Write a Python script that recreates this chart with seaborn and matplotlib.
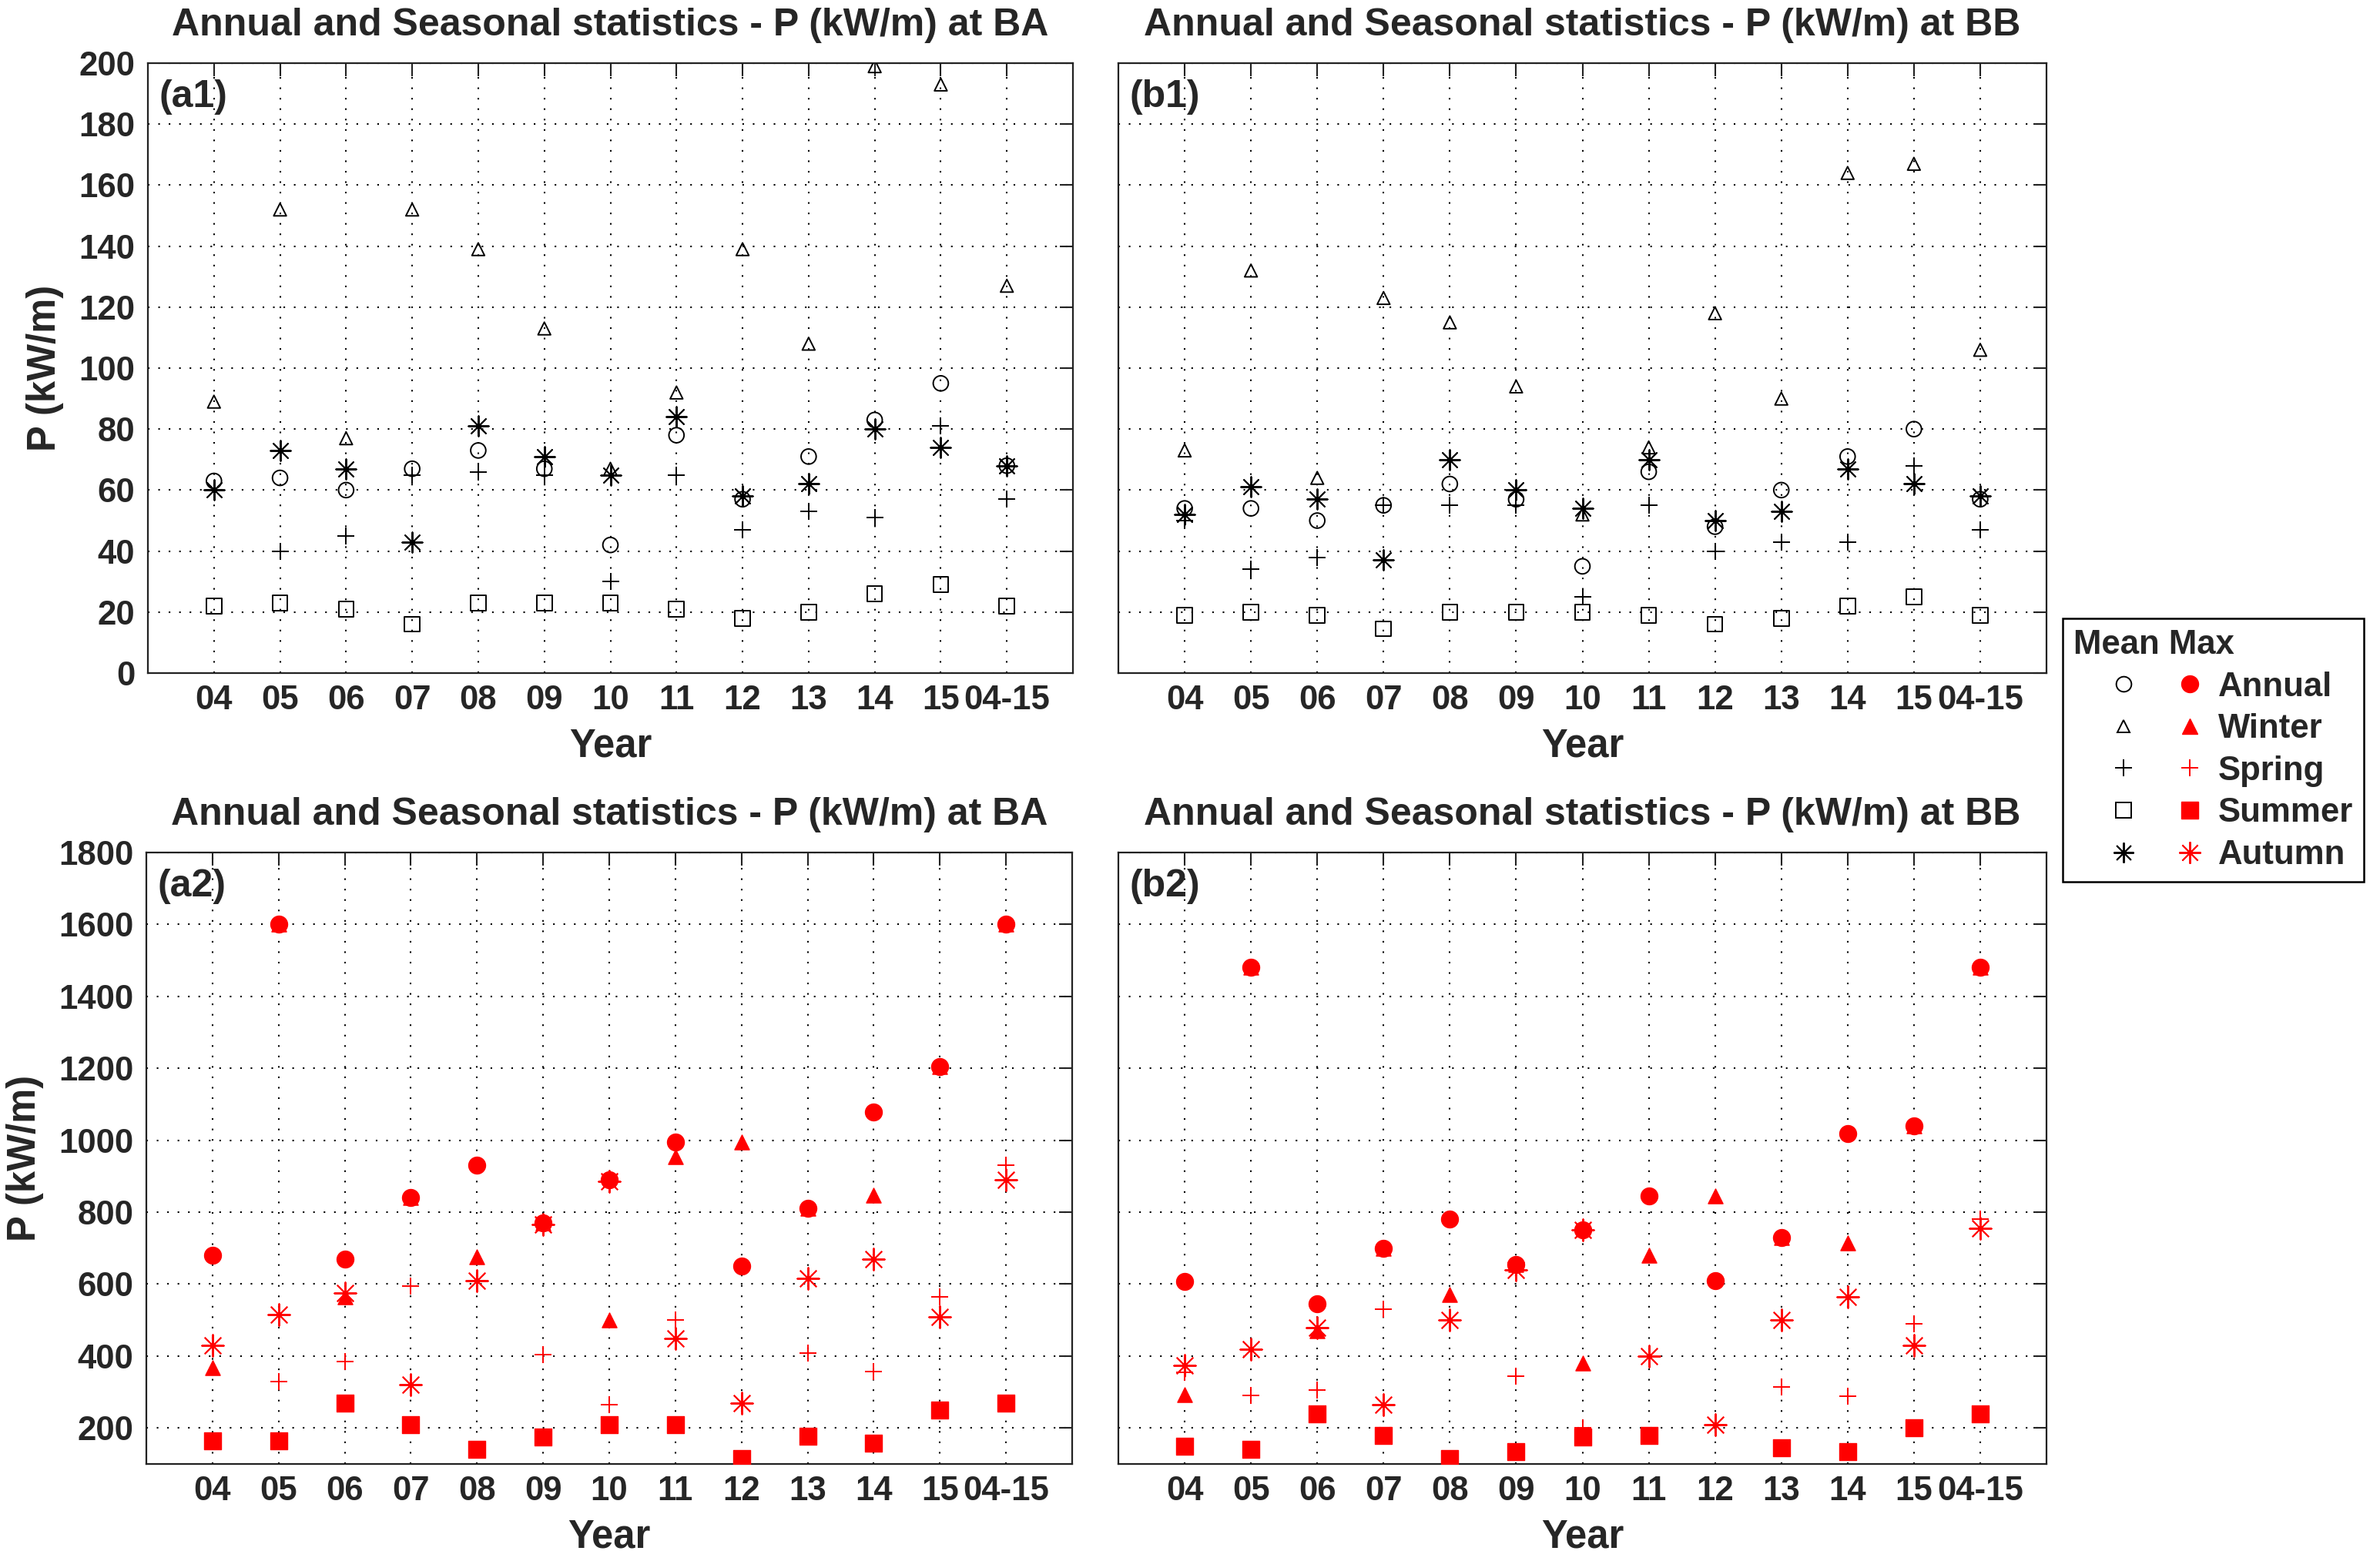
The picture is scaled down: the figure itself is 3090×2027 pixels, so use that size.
import numpy as np
import pandas as pd
import seaborn as sns
import matplotlib.pyplot as plt
from matplotlib.lines import Line2D
from matplotlib.legend_handler import HandlerTuple

years = ['04', '05', '06', '07', '08', '09', '10', '11', '12', '13', '14', '15', '04-15']
seasons = ['Annual', 'Winter', 'Spring', 'Summer', 'Autumn']

# mean P (kW/m) at BA
ba_mean_annual = [63, 64, 60, 67, 73, 67, 42, 78, 57, 71, 83, 95, 68]
ba_mean_winter = [89, 152, 77, 152, 139, 113, 67, 92, 139, 108, 199, 193, 127]
ba_mean_spring = [60, 40, 45, 65, 66, 65, 30, 65, 47, 53, 51, 81, 57]
ba_mean_summer = [22, 23, 21, 16, 23, 23, 23, 21, 18, 20, 26, 29, 22]
ba_mean_autumn = [60, 73, 67, 43, 81, 71, 65, 84, 58, 62, 80, 74, 68]

# mean P (kW/m) at BB
bb_mean_annual = [54, 54, 50, 55, 62, 57, 35, 66, 48, 60, 71, 80, 57]
bb_mean_winter = [73, 132, 64, 123, 115, 94, 52, 74, 118, 90, 164, 167, 106]
bb_mean_spring = [50, 34, 38, 55, 55, 55, 25, 55, 40, 43, 43, 68, 47]
bb_mean_summer = [19, 20, 19, 14.5, 20, 20, 20, 19, 16, 18, 22, 25, 19]
bb_mean_autumn = [52, 61, 57, 37, 70, 60, 54, 70, 50, 53, 67, 62, 58]

# max P (kW/m) at BA
ba_max_annual = [680, 1600, 670, 840, 930, 770, 890, 995, 650, 810, 1078, 1205, 1600]
ba_max_winter = [368, 1600, 565, 840, 675, 770, 500, 955, 995, 810, 848, 1205, 1600]
ba_max_spring = [430, 330, 385, 595, 610, 405, 265, 500, 270, 408, 357, 565, 930]
ba_max_summer = [165, 165, 270, 210, 140, 175, 210, 210, 115, 177, 158, 249, 270]
ba_max_autumn = [430, 515, 575, 320, 610, 765, 885, 450, 270, 615, 670, 510, 890]

# max P (kW/m) at BB (summer 12 falls below the axis)
bb_max_annual = [607, 1480, 545, 700, 780, 655, 750, 845, 610, 730, 1018, 1040, 1480]
bb_max_winter = [292, 1480, 470, 700, 570, 655, 380, 680, 845, 730, 715, 1040, 1480]
bb_max_spring = [355, 290, 305, 530, 500, 345, 200, 400, 210, 315, 288, 490, 780]
bb_max_summer = [150, 140, 240, 180, 115, 135, 175, 180, 60, 145, 135, 200, 240]
bb_max_autumn = [375, 420, 480, 265, 500, 640, 750, 400, 210, 500, 565, 430, 755]

panels = [
    ('(a1)', 'BA', [ba_mean_annual, ba_mean_winter, ba_mean_spring, ba_mean_summer, ba_mean_autumn], 'mean'),
    ('(b1)', 'BB', [bb_mean_annual, bb_mean_winter, bb_mean_spring, bb_mean_summer, bb_mean_autumn], 'mean'),
    ('(a2)', 'BA', [ba_max_annual, ba_max_winter, ba_max_spring, ba_max_summer, ba_max_autumn], 'max'),
    ('(b2)', 'BB', [bb_max_annual, bb_max_winter, bb_max_spring, bb_max_summer, bb_max_autumn], 'max'),
]

asterisk = (8, 2, 0)
mean_style = {
    'Annual': dict(marker='o', s=200, facecolor='none', edgecolor='k', linewidth=1.4),
    'Winter': dict(marker='^', s=140, facecolor='none', edgecolor='k', linewidth=1.4),
    'Spring': dict(marker='+', s=260, color='k', linewidth=1.4),
    'Summer': dict(marker='s', s=200, facecolor='none', edgecolor='k', linewidth=1.4),
    'Autumn': dict(marker=asterisk, s=360, color='k', linewidth=1.4),
}
max_style = {
    'Annual': dict(marker='o', s=250, color='red', edgecolor='red', linewidth=1),
    'Winter': dict(marker='^', s=190, color='red', edgecolor='red', linewidth=1),
    'Spring': dict(marker='+', s=260, color='red', linewidth=1.4),
    'Summer': dict(marker='s', s=260, color='red', edgecolor='red', linewidth=1),
    'Autumn': dict(marker=asterisk, s=420, color='red', linewidth=1.4),
}

sns.set_style('white')
plt.rcParams['font.family'] = ['Liberation Sans', 'DejaVu Sans']
plt.rcParams['font.weight'] = 'bold'
plt.rcParams['axes.labelweight'] = 'bold'
plt.rcParams['axes.titleweight'] = 'bold'

W, H = 3090, 2027
fig = plt.figure(figsize=(W / 100, H / 100), dpi=100)
boxes = [(192, 82, 1393, 874), (1452, 82, 2657, 874),
         (190, 1107, 1392, 1901), (1452, 1107, 2657, 1901)]

xpos = np.arange(1, len(years) + 1)
for (tag, site, series, kind), (x0, y0, x1, y1) in zip(panels, boxes):
    ax = fig.add_axes([x0 / W, 1 - y1 / H, (x1 - x0) / W, (y1 - y0) / H])
    styles = mean_style if kind == 'mean' else max_style
    for season, vals in zip(seasons, series):
        sns.scatterplot(x=xpos, y=vals, ax=ax, zorder=3, **styles[season])
    ax.set_xlim(0, 14)
    ax.set_xticks(xpos)
    ax.set_xticklabels(years)
    if kind == 'mean':
        ax.set_ylim(0, 200)
        ax.set_yticks(np.arange(0, 201, 20))
    else:
        ax.set_ylim(100, 1800)
        ax.set_yticks(np.arange(200, 1801, 200))
    ax.grid(True, color='k', linestyle=(0, (1, 5.5)), linewidth=1.5)
    ax.tick_params(direction='in', top=True, right=True, length=12, width=1.5,
                   labelsize=31.5, color='#222')
    ax.tick_params(axis='x', pad=11)
    ax.tick_params(axis='y', pad=12)
    for sp in ax.spines.values():
        sp.set_color('#222')
        sp.set_linewidth(1.6)
    ax.set_title('Annual and Seasonal statistics - P (kW/m) at ' + site,
                 fontsize=36, fontweight='bold', pad=26)
    ax.set_xlabel('Year', fontsize=36.5, fontweight='bold', labelpad=10)
    if site == 'BA':
        ax.set_ylabel('P (kW/m)', fontsize=36.5, fontweight='bold', labelpad=14)
    else:
        ax.set_ylabel('')
        ax.tick_params(axis='y', labelleft=False)
    ax.text(0.012, 0.945, tag, transform=ax.transAxes, fontsize=36,
            fontweight='bold', ha='left', va='center')


def proxy(st):
    mk = st['marker']
    ms = np.sqrt(st['s'])
    fc = st.get('facecolor', st.get('color'))
    ec = st.get('edgecolor', st.get('color'))
    return Line2D([], [], linestyle='none', marker=mk, markersize=ms,
                  markerfacecolor=fc, markeredgecolor=ec,
                  markeredgewidth=st['linewidth'])


handles = [(proxy(mean_style[s]), proxy(max_style[s])) for s in seasons]
leg = fig.legend(handles, seasons,
                 handler_map={tuple: HandlerTuple(ndivide=None, pad=-1.0)},
                 loc='upper left', bbox_to_anchor=(2678 / W, 1 - 803 / H),
                 bbox_transform=fig.transFigure, borderaxespad=0,
                 frameon=True, fancybox=False, edgecolor='k', framealpha=1,
                 handlelength=4.94, handletextpad=-0.64, borderpad=0.32,
                 labelspacing=0.31, title='Mean Max', alignment='left',
                 prop={'size': 31.5, 'weight': 'bold'},
                 title_fontproperties={'size': 31.5, 'weight': 'bold'})
leg.get_frame().set_linewidth(1.8)

fig.savefig('out.png', dpi=100)
